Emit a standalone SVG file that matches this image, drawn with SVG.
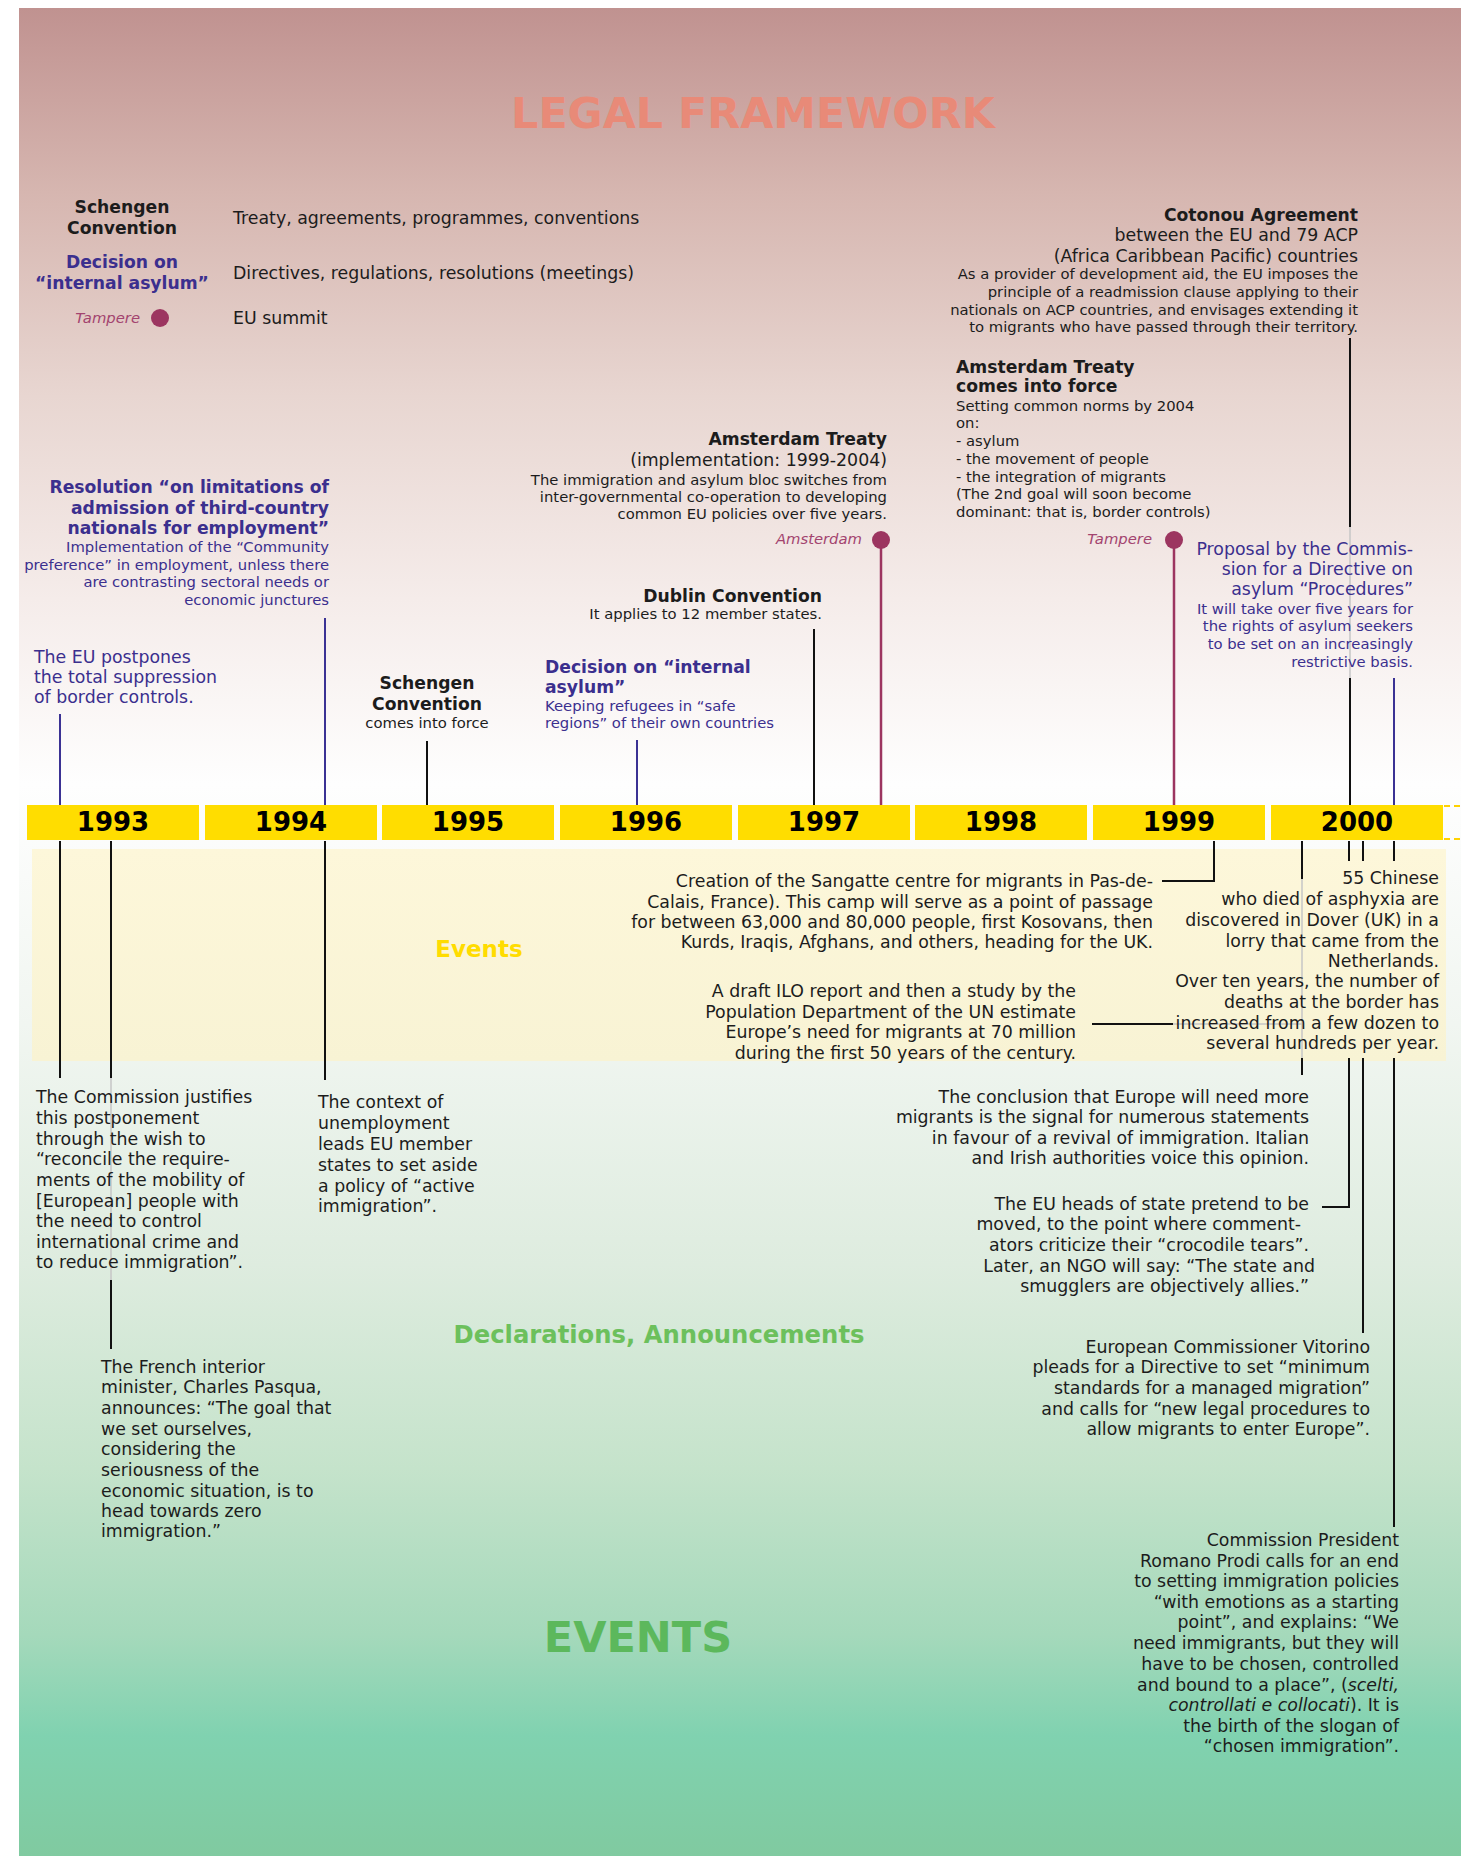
<svg xmlns="http://www.w3.org/2000/svg" width="1461" height="1856" viewBox="0 0 1461 1856">
  <defs>
    <linearGradient id="bg" x1="0" y1="0" x2="0" y2="1">
      <stop offset="0" stop-color="#c09290"/>
      <stop offset="0.10" stop-color="#d6b6b0"/>
      <stop offset="0.21" stop-color="#e8d6d1"/>
      <stop offset="0.32" stop-color="#f5ecea"/>
      <stop offset="0.42" stop-color="#fefefe"/>
      <stop offset="0.55" stop-color="#f1f6f1"/>
      <stop offset="0.68" stop-color="#deecdf"/>
      <stop offset="0.79" stop-color="#c5e3cb"/>
      <stop offset="0.88" stop-color="#a5d9bb"/>
      <stop offset="0.935" stop-color="#80d2b0"/>
      <stop offset="1" stop-color="#80caa0"/>
    </linearGradient>
    <linearGradient id="band" x1="0" y1="0" x2="0" y2="1">
      <stop offset="0" stop-color="#fdf7da"/>
      <stop offset="1" stop-color="#f8f3d4"/>
    </linearGradient>
    <style>
      text{font-family:"DejaVu Sans","Liberation Sans",sans-serif;fill:#1c1c1c}
      .r{font-size:17.35px}
      .s{font-size:14.8px}
      .b{font-size:17.2px;font-weight:bold}
      .bl{fill:#3b2f8e}
      .it{font-style:italic;fill:#a3446f;font-size:14.8px}
      .yr{font-size:26px;font-weight:bold;fill:#000;text-anchor:middle}
      .e{text-anchor:end}
      .m{text-anchor:middle}
      .yb{fill:#ffdd00}
      .k{stroke:#111;stroke-width:2;fill:none}
      .kb{stroke:#3b3294;stroke-width:2;fill:none}
      .km{stroke:#9c3560;stroke-width:2.5;fill:none}
      .g{stroke:#c6c6c6;stroke-width:1.5;fill:none}
      .dot{fill:#9c3560}
    </style>
  </defs>

  <!-- page background -->
  <rect x="0" y="0" width="1461" height="1856" fill="#ffffff"/>
  <rect x="19" y="8" width="1442" height="1848" fill="url(#bg)"/>

  <!-- section headings -->
  <g id="headings">
    <text x="753" y="128" class="m" style="font-size:42.8px;font-weight:bold;fill:#e88a78">LEGAL FRAMEWORK</text>
    <text x="659" y="1343" class="m" style="font-size:24.3px;font-weight:bold;fill:#6cc05c">Declarations, Announcements</text>
    <text x="638" y="1652" class="m" style="font-size:43px;font-weight:bold;fill:#5cb85c">EVENTS</text>
  </g>

  <!-- legend -->
  <g id="legend">
    <text class="b m" x="122" y="213">Schengen</text>
    <text class="b m" x="122" y="234">Convention</text>
    <text class="r" x="233" y="224">Treaty, agreements, programmes, conventions</text>
    <text class="b m bl" x="122" y="268">Decision on</text>
    <text class="b m bl" x="122" y="289">“internal asylum”</text>
    <text class="r" x="233" y="279">Directives, regulations, resolutions (meetings)</text>
    <text class="it e" x="140" y="323">Tampere</text>
    <circle class="dot" cx="160" cy="318" r="9"/>
    <text class="r" x="233" y="324">EU summit</text>
  </g>

  <!-- events band -->
  <rect id="events-band" x="32" y="849" width="1414" height="212" fill="url(#band)"/>
  <text x="479" y="957" class="m" style="font-size:23px;font-weight:bold;fill:#ffdc00">Events</text>

  <!-- timeline -->
  <g id="timeline">
    <rect class="yb" x="27" y="805" width="172" height="35"/>
    <rect class="yb" x="205" y="805" width="172" height="35"/>
    <rect class="yb" x="382" y="805" width="172" height="35"/>
    <rect class="yb" x="560" y="805" width="172" height="35"/>
    <rect class="yb" x="738" y="805" width="172" height="35"/>
    <rect class="yb" x="915" y="805" width="172" height="35"/>
    <rect class="yb" x="1093" y="805" width="172" height="35"/>
    <rect class="yb" x="1271" y="805" width="172" height="35"/>
    <line x1="1444" y1="806" x2="1461" y2="806" stroke="#ffd200" stroke-width="2" stroke-dasharray="6 4"/>
    <line x1="1444" y1="839" x2="1461" y2="839" stroke="#ffd200" stroke-width="2" stroke-dasharray="6 4"/>
    <text class="yr" x="113" y="831">1993</text>
    <text class="yr" x="291" y="831">1994</text>
    <text class="yr" x="468" y="831">1995</text>
    <text class="yr" x="646" y="831">1996</text>
    <text class="yr" x="824" y="831">1997</text>
    <text class="yr" x="1001" y="831">1998</text>
    <text class="yr" x="1179" y="831">1999</text>
    <text class="yr" x="1357" y="831">2000</text>
  </g>

  <!-- connectors -->
  <g id="connectors">
    <!-- above the bar -->
    <line class="kb" x1="60" y1="714" x2="60" y2="805"/>
    <line class="kb" x1="325" y1="618" x2="325" y2="805"/>
    <line class="k" x1="427" y1="741" x2="427" y2="805"/>
    <line class="kb" x1="637" y1="740" x2="637" y2="805"/>
    <line class="k" x1="814" y1="629" x2="814" y2="805"/>
    <line class="km" x1="881" y1="540" x2="881" y2="805"/>
    <circle class="dot" cx="881" cy="540" r="9"/>
    <line class="km" x1="1174" y1="540" x2="1174" y2="805"/>
    <circle class="dot" cx="1174" cy="540" r="9"/>
    <line class="k" x1="1350" y1="338" x2="1350" y2="527"/>
    <line class="g" x1="1350" y1="527" x2="1350" y2="678"/>
    <line class="k" x1="1350" y1="678" x2="1350" y2="805"/>
    <line class="kb" x1="1394" y1="678" x2="1394" y2="805"/>
    <!-- below the bar -->
    <line class="k" x1="60" y1="841" x2="60" y2="1078"/>
    <line class="k" x1="111" y1="841" x2="111" y2="1078"/>
    <line class="g" x1="111" y1="1078" x2="111" y2="1280"/>
    <line class="k" x1="111" y1="1280" x2="111" y2="1349"/>
    <line class="k" x1="325" y1="841" x2="325" y2="1080"/>
    <polyline class="k" points="1214,841 1214,881 1162,881"/>
    <line class="k" x1="1092" y1="1024" x2="1173" y2="1024"/>
    <line class="g" x1="1173" y1="1024" x2="1302" y2="1024"/>
    <line class="k" x1="1302" y1="841" x2="1302" y2="879"/>
    <line class="g" x1="1302" y1="879" x2="1302" y2="1058"/>
    <line class="k" x1="1302" y1="1058" x2="1302" y2="1075"/>
    <line class="k" x1="1349" y1="841" x2="1349" y2="861"/>
    <line class="k" x1="1363" y1="841" x2="1363" y2="861"/>
    <line class="k" x1="1394" y1="841" x2="1394" y2="861"/>
    <polyline class="k" points="1349,1058 1349,1207 1322,1207"/>
    <line class="k" x1="1363" y1="1058" x2="1363" y2="1333"/>
    <line class="k" x1="1394" y1="1058" x2="1394" y2="1527"/>
  </g>

  <!-- legal framework entries -->
  <g id="cotonou">
    <text class="b e" x="1358" y="221">Cotonou Agreement</text>
    <text class="r e" x="1358" y="241">between the EU and 79 ACP</text>
    <text class="r e" x="1358" y="262">(Africa Caribbean Pacific) countries</text>
    <text class="s e" x="1358" y="279">As a provider of development aid, the EU imposes the</text>
    <text class="s e" x="1358" y="297">principle of a readmission clause applying to their</text>
    <text class="s e" x="1358" y="315">nationals on ACP countries, and envisages extending it</text>
    <text class="s e" x="1358" y="332">to migrants who have passed through their territory.</text>
  </g>

  <g id="amsterdam-force">
    <text class="b" x="956" y="373">Amsterdam Treaty</text>
    <text class="b" x="956" y="392">comes into force</text>
    <text class="s" x="956" y="411">Setting common norms by 2004</text>
    <text class="s" x="956" y="428">on:</text>
    <text class="s" x="956" y="446">- asylum</text>
    <text class="s" x="956" y="464">- the movement of people</text>
    <text class="s" x="956" y="482">- the integration of migrants</text>
    <text class="s" x="956" y="499">(The 2nd goal will soon become</text>
    <text class="s" x="956" y="517">dominant: that is, border controls)</text>
  </g>

  <g id="amsterdam-treaty">
    <text class="b e" x="887" y="445">Amsterdam Treaty</text>
    <text class="r e" x="887" y="466">(implementation: 1999-2004)</text>
    <text class="s e" x="887" y="485">The immigration and asylum bloc switches from</text>
    <text class="s e" x="887" y="502">inter-governmental co-operation to developing</text>
    <text class="s e" x="887" y="519">common EU policies over five years.</text>
  </g>

  <g id="summit-amsterdam">
    <text class="it e" x="862" y="544">Amsterdam</text>
  </g>
  <g id="summit-tampere">
    <text class="it e" x="1152" y="544">Tampere</text>
  </g>

  <g id="proposal">
    <text class="r e bl" x="1413" y="555">Proposal by the Commis-</text>
    <text class="r e bl" x="1413" y="575">sion for a Directive on</text>
    <text class="r e bl" x="1413" y="595">asylum “Procedures”</text>
    <text class="s e bl" x="1413" y="614">It will take over five years for</text>
    <text class="s e bl" x="1413" y="631">the rights of asylum seekers</text>
    <text class="s e bl" x="1413" y="649">to be set on an increasingly</text>
    <text class="s e bl" x="1413" y="667">restrictive basis.</text>
  </g>

  <g id="resolution">
    <text class="b e bl" x="329" y="493">Resolution “on limitations of</text>
    <text class="b e bl" x="329" y="514">admission of third-country</text>
    <text class="b e bl" x="329" y="534">nationals for employment”</text>
    <text class="s e bl" x="329" y="552">Implementation of the “Community</text>
    <text class="s e bl" x="329" y="570">preference” in employment, unless there</text>
    <text class="s e bl" x="329" y="587">are contrasting sectoral needs or</text>
    <text class="s e bl" x="329" y="605">economic junctures</text>
  </g>

  <g id="postpones">
    <text class="r bl" x="34" y="663">The EU postpones</text>
    <text class="r bl" x="34" y="683">the total suppression</text>
    <text class="r bl" x="34" y="703">of border controls.</text>
  </g>

  <g id="schengen-force">
    <text class="b m" x="427" y="689">Schengen</text>
    <text class="b m" x="427" y="710">Convention</text>
    <text class="s m" x="427" y="728">comes into force</text>
  </g>

  <g id="internal-asylum">
    <text class="b bl" x="545" y="673">Decision on “internal</text>
    <text class="b bl" x="545" y="693">asylum”</text>
    <text class="s bl" x="545" y="711">Keeping refugees in “safe</text>
    <text class="s bl" x="545" y="728">regions” of their own countries</text>
  </g>

  <g id="dublin">
    <text class="b e" x="822" y="602">Dublin Convention</text>
    <text class="s e" x="822" y="619">It applies to 12 member states.</text>
  </g>

  <!-- events -->
  <g id="sangatte">
    <text class="r e" x="1153" y="887">Creation of the Sangatte centre for migrants in Pas-de-</text>
    <text class="r e" x="1153" y="908">Calais, France). This camp will serve as a point of passage</text>
    <text class="r e" x="1153" y="928">for between 63,000 and 80,000 people, first Kosovans, then</text>
    <text class="r e" x="1153" y="948">Kurds, Iraqis, Afghans, and others, heading for the UK.</text>
  </g>

  <g id="ilo">
    <text class="r e" x="1076" y="997">A draft ILO report and then a study by the</text>
    <text class="r e" x="1076" y="1018">Population Department of the UN estimate</text>
    <text class="r e" x="1076" y="1038">Europe’s need for migrants at 70 million</text>
    <text class="r e" x="1076" y="1059">during the first 50 years of the century.</text>
  </g>

  <g id="dover">
    <text class="r e" x="1439" y="884">55 Chinese</text>
    <text class="r e" x="1439" y="905">who died of asphyxia are</text>
    <text class="r e" x="1439" y="926">discovered in Dover (UK) in a</text>
    <text class="r e" x="1439" y="947">lorry that came from the</text>
    <text class="r e" x="1439" y="967">Netherlands.</text>
    <text class="r e" x="1439" y="987">Over ten years, the number of</text>
    <text class="r e" x="1439" y="1008">deaths at the border has</text>
    <text class="r e" x="1439" y="1029">increased from a few dozen to</text>
    <text class="r e" x="1439" y="1049">several hundreds per year.</text>
  </g>

  <!-- declarations -->
  <g id="commission-justifies">
    <text class="r" x="36" y="1103">The Commission justifies</text>
    <text class="r" x="36" y="1124">this postponement</text>
    <text class="r" x="36" y="1145">through the wish to</text>
    <text class="r" x="36" y="1165">“reconcile the require-</text>
    <text class="r" x="36" y="1186">ments of the mobility of</text>
    <text class="r" x="36" y="1207">[European] people with</text>
    <text class="r" x="36" y="1227">the need to control</text>
    <text class="r" x="36" y="1248">international crime and</text>
    <text class="r" x="36" y="1268">to reduce immigration”.</text>
  </g>

  <g id="unemployment">
    <text class="r" x="318" y="1108">The context of</text>
    <text class="r" x="318" y="1129">unemployment</text>
    <text class="r" x="318" y="1150">leads EU member</text>
    <text class="r" x="318" y="1171">states to set aside</text>
    <text class="r" x="318" y="1192">a policy of “active</text>
    <text class="r" x="318" y="1212">immigration”.</text>
  </g>

  <g id="pasqua">
    <text class="r" x="101" y="1373">The French interior</text>
    <text class="r" x="101" y="1393">minister, Charles Pasqua,</text>
    <text class="r" x="101" y="1414">announces: “The goal that</text>
    <text class="r" x="101" y="1435">we set ourselves,</text>
    <text class="r" x="101" y="1455">considering the</text>
    <text class="r" x="101" y="1476">seriousness of the</text>
    <text class="r" x="101" y="1497">economic situation, is to</text>
    <text class="r" x="101" y="1517">head towards zero</text>
    <text class="r" x="101" y="1537">immigration.”</text>
  </g>

  <g id="conclusion">
    <text class="r e" x="1309" y="1103">The conclusion that Europe will need more</text>
    <text class="r e" x="1309" y="1123">migrants is the signal for numerous statements</text>
    <text class="r e" x="1309" y="1144">in favour of a revival of immigration. Italian</text>
    <text class="r e" x="1309" y="1164">and Irish authorities voice this opinion.</text>
  </g>

  <g id="heads-of-state">
    <text class="r e" x="1309" y="1210">The EU heads of state pretend to be</text>
    <text class="r e" x="1301" y="1230">moved, to the point where comment-</text>
    <text class="r e" x="1309" y="1251">ators criticize their “crocodile tears”.</text>
    <text class="r e" x="1315" y="1272">Later, an NGO will say: “The state and</text>
    <text class="r e" x="1309" y="1292">smugglers are objectively allies.”</text>
  </g>

  <g id="vitorino">
    <text class="r e" x="1370" y="1353">European Commissioner Vitorino</text>
    <text class="r e" x="1370" y="1373">pleads for a Directive to set “minimum</text>
    <text class="r e" x="1370" y="1394">standards for a managed migration”</text>
    <text class="r e" x="1370" y="1415">and calls for “new legal procedures to</text>
    <text class="r e" x="1370" y="1435">allow migrants to enter Europe”.</text>
  </g>

  <g id="prodi">
    <text class="r e" x="1399" y="1546">Commission President</text>
    <text class="r e" x="1399" y="1567">Romano Prodi calls for an end</text>
    <text class="r e" x="1399" y="1587">to setting immigration policies</text>
    <text class="r e" x="1399" y="1608">“with emotions as a starting</text>
    <text class="r e" x="1399" y="1628">point”, and explains: “We</text>
    <text class="r e" x="1399" y="1649">need immigrants, but they will</text>
    <text class="r e" x="1399" y="1670">have to be chosen, controlled</text>
    <text class="r e" x="1399" y="1691">and bound to a place”, (<tspan font-style="italic">scelti,</tspan></text>
    <text class="r e" x="1399" y="1711"><tspan font-style="italic">controllati e collocati</tspan>). It is</text>
    <text class="r e" x="1399" y="1732">the birth of the slogan of</text>
    <text class="r e" x="1399" y="1752">“chosen immigration”.</text>
  </g>
</svg>
